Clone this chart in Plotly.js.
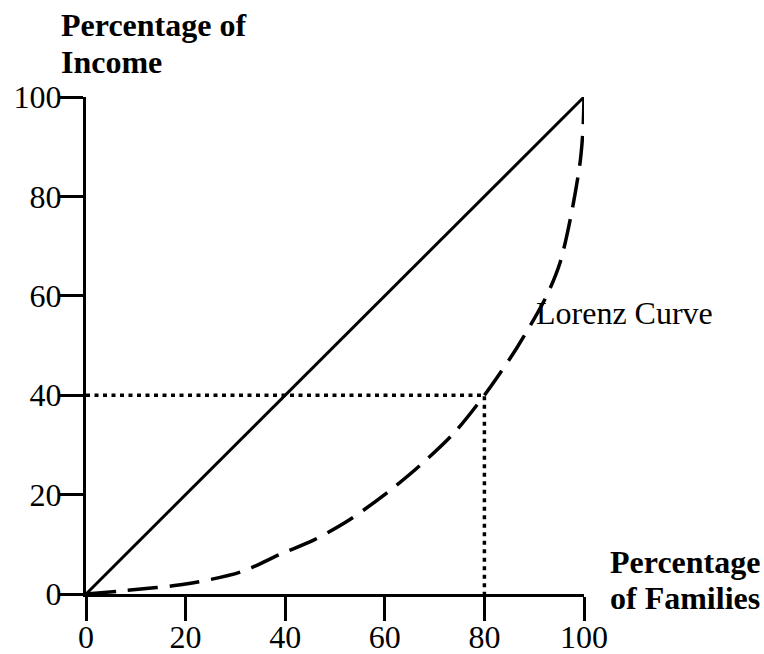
<!DOCTYPE html>
<html>
<head>
<meta charset="utf-8">
<script src="https://cdn.plot.ly/plotly-3.0.1.min.js"></script>
<style>html,body{margin:0;padding:0;background:#fff;}#chart{width:764px;height:654px;}</style>
</head>
<body>
<div id="chart"></div>
<script>
// Data
var equalityX = [0, 100];
var equalityY = [0, 100];
var lorenzX = [0, 8, 20, 31, 39, 46, 53, 60.5, 67, 74, 80, 86.5, 92.5, 95.2, 97.5, 99.2, 99.8, 100];
var lorenzY = [0, 0.7, 2, 4.4, 8, 11, 15, 20.4, 25.8, 32.5, 40, 49.5, 60, 66.7, 76.7, 86.7, 93.4, 100];
var refX = [0, 80, 80];
var refY = [40, 40, 0];
var tickVals = [0, 20, 40, 60, 80, 100];
var tickText = ["0", "20", "40", "60", "80", "100"];
var yTitleLines = ["Percentage of", "Income"];
var xTitleLines = ["Percentage", "of Families"];
var curveLabel = "Lorenz Curve";

var FONT = "Liberation Serif, Times New Roman, serif";

var traces = [
  {x: refX, y: refY, mode: "lines", cliponaxis: false, hoverinfo: "skip",
   line: {color: "#000", width: 3.5, dash: "4px,4.5px"}},
  {x: equalityX, y: equalityY, mode: "lines", cliponaxis: false, hoverinfo: "skip",
   line: {color: "#000", width: 3}},
  {x: lorenzX, y: lorenzY, mode: "lines", cliponaxis: false, hoverinfo: "skip",
   line: {color: "#000", width: 3.5, dash: "30px,12px", shape: "spline", smoothing: 0.8}}
];

function axis(standoff) {
  return {
    range: [0, 100], showgrid: false, zeroline: false, showline: true,
    linecolor: "#000", linewidth: 3, ticks: "outside", ticklen: 24, tickwidth: 3,
    tickcolor: "#000", tickvals: tickVals, ticktext: tickText,
    ticklabelstandoff: standoff,
    tickfont: {family: FONT, size: 32, color: "#000"}, fixedrange: true
  };
}

var titleFont = {family: FONT, size: 32, color: "#000", weight: "bold"};
function lineAnn(text, x, y) {
  return {text: text, xref: "paper", yref: "paper", x: x, y: y,
          xanchor: "left", yanchor: "middle", align: "left", showarrow: false,
          font: titleFont};
}

var layout = {
  width: 764, height: 654,
  margin: {l: 86, r: 180, t: 97, b: 60, pad: 0},
  paper_bgcolor: "#fff", plot_bgcolor: "#fff",
  showlegend: false,
  xaxis: axis(-11),
  yaxis: axis(-9),
  annotations: [
    lineAnn(yTitleLines[0], -0.054, 1.1456),
    lineAnn(yTitleLines[1], -0.054, 1.0713),
    lineAnn(xTitleLines[0], 1.049, 0.0653),
    lineAnn(xTitleLines[1], 1.049, -0.008),
    {text: curveLabel, xref: "x", yref: "y", x: 89.9, y: 56.5,
     xanchor: "left", yanchor: "middle", align: "left", showarrow: false,
     font: {family: FONT, size: 32, color: "#000"}}
  ]
};

Plotly.newPlot("chart", traces, layout, {displayModeBar: false, staticPlot: true});
</script>
</body>
</html>
